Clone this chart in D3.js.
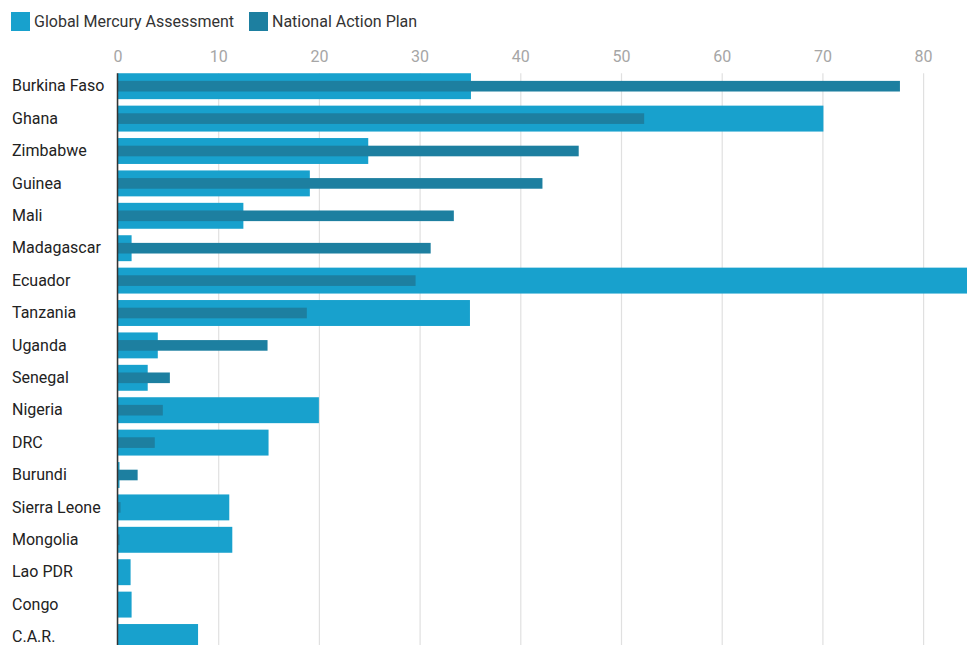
<!DOCTYPE html>
<html>
<head>
<meta charset="utf-8">
<script src="https://cdn.jsdelivr.net/npm/d3@7"></script>
<style>
  body { margin: 0; background: #fff; }
  svg { display: block; font-family: Roboto, "Noto Sans", sans-serif; }
</style>
</head>
<body>
<div id="chart"></div>
<script>
const FRAME_WIDTH = 967;
const FRAME_HEIGHT = 645;

// data (values in tonnes)
const countries = ["Burkina Faso", "Ghana", "Zimbabwe", "Guinea", "Mali", "Madagascar",
  "Ecuador", "Tanzania", "Uganda", "Senegal", "Nigeria", "DRC", "Burundi",
  "Sierra Leone", "Mongolia", "Lao PDR", "Congo", "C.A.R."];
const gmaValues = [35.1, 70.1, 24.9, 19.1, 12.5, 1.4, 92, 35, 4, 3, 20, 15, 0.2,
  11.1, 11.4, 1.3, 1.4, 8];
const napValues = [77.7, 52.3, 45.8, 42.2, 33.4, 31.1, 29.6, 18.8, 14.9, 5.2, 4.5, 3.7, 2,
  0.3, 0.2, 0.05, 0.05, 0];
const xTicks = [0, 10, 20, 30, 40, 50, 60, 70, 80];
const seriesNames = ["Global Mercury Assessment", "National Action Plan"];
const seriesColors = ["#18a1cd", "#1d7fa0"];

const svg = d3.select("#chart")
  .append("svg")
    .attr("width", FRAME_WIDTH)
    .attr("height", FRAME_HEIGHT);

const X_SCALE = d3.scaleLinear()
  .domain([0, 80])
  .range([117.5, 923.1]);

const Y_SCALE = d3.scaleBand()
  .domain(countries)
  .range([70, 653.2])
  .paddingInner(0.2)
  .paddingOuter(0.1);

const barTop = Y_SCALE(countries[0]);

// grid lines + tick labels on top
const xAxis = svg.append("g")
  .attr("transform", "translate(0," + barTop + ")")
  .call(d3.axisTop(X_SCALE).tickValues(xTicks).tickSize(-(FRAME_HEIGHT - barTop)).tickPadding(11));
xAxis.select(".domain").remove();
xAxis.selectAll(".tick line").attr("stroke", "#e0e0e0").attr("stroke-width", 1.2);
xAxis.selectAll(".tick text")
  .attr("fill", "#a6a6a6")
  .attr("font-size", "16px")
  .attr("font-family", "Roboto, sans-serif");

// GMA bars (wide)
svg.selectAll(".gma")
  .data(countries)
  .enter()
  .append("rect")
    .attr("class", "gma")
    .attr("x", X_SCALE(0))
    .attr("y", (d) => Y_SCALE(d))
    .attr("width", (d, i) => X_SCALE(gmaValues[i]) - X_SCALE(0))
    .attr("height", Y_SCALE.bandwidth())
    .attr("fill", seriesColors[0]);

// NAP bars (narrow, centred)
const napH = Y_SCALE.bandwidth() * 0.41;
svg.selectAll(".nap")
  .data(countries)
  .enter()
  .append("rect")
    .attr("class", "nap")
    .attr("x", X_SCALE(0))
    .attr("y", (d) => Y_SCALE(d) + (Y_SCALE.bandwidth() - napH) / 2)
    .attr("width", (d, i) => X_SCALE(napValues[i]) - X_SCALE(0))
    .attr("height", napH)
    .attr("fill", seriesColors[1]);

// y axis
const yAxis = svg.append("g")
  .attr("transform", "translate(" + X_SCALE(0) + ",0)")
  .call(d3.axisLeft(Y_SCALE).tickSize(0).tickPadding(0));
yAxis.select(".domain").remove();
yAxis.selectAll(".tick text")
  .attr("x", 12 - X_SCALE(0))
  .attr("text-anchor", "start")
  .attr("fill", "#222")
  .attr("font-size", "16px")
  .attr("font-family", "Roboto, sans-serif");

svg.append("line")
  .attr("x1", X_SCALE(0)).attr("x2", X_SCALE(0))
  .attr("y1", barTop).attr("y2", FRAME_HEIGHT)
  .attr("stroke", "#333")
  .attr("stroke-width", 1.5);

// legend
const legend = svg.append("g").attr("class", "legend");
const legendX = [11, 249];
seriesNames.forEach((name, i) => {
  legend.append("rect")
    .attr("x", legendX[i])
    .attr("y", 12)
    .attr("width", 19)
    .attr("height", 19)
    .attr("fill", seriesColors[i]);
  legend.append("text")
    .attr("x", legendX[i] + 23)
    .attr("y", 27)
    .attr("fill", "#333")
    .attr("font-size", "16px")
    .text(name);
});
</script>
</body>
</html>
